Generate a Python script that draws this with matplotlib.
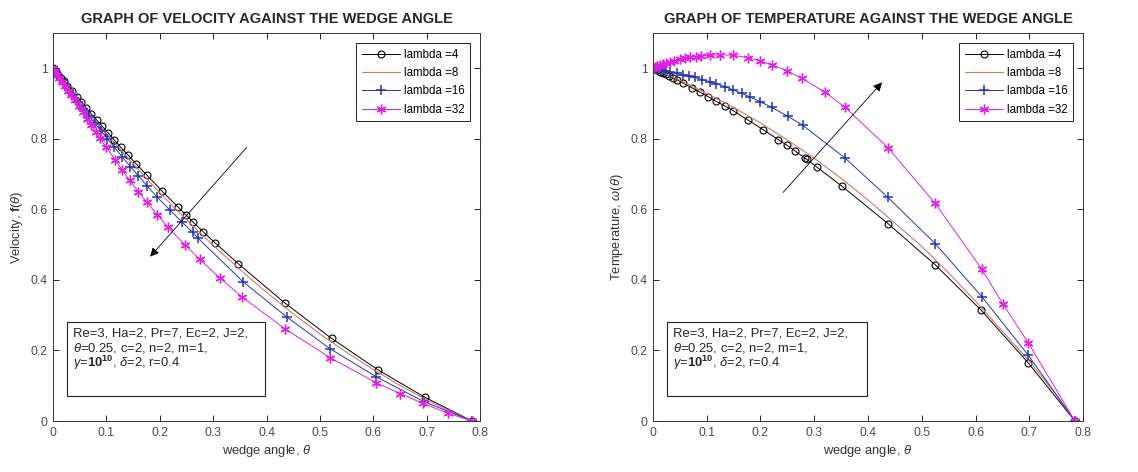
import matplotlib
matplotlib.use("Agg")
import matplotlib.pyplot as plt
from matplotlib.patches import Rectangle

plt.rcParams['font.family'] = ['Liberation Sans', 'DejaVu Sans']
plt.rcParams['mathtext.fontset'] = 'custom'
plt.rcParams['mathtext.rm'] = 'Liberation Sans'
plt.rcParams['mathtext.it'] = 'Liberation Sans:italic'
plt.rcParams['mathtext.bf'] = 'Liberation Sans:bold'

# ---------------- data: velocity ----------------
vel_x4 = [0, 0.005, 0.01, 0.015, 0.02, 0.027, 0.035, 0.044, 0.053, 0.062, 0.072, 0.082,
          0.092, 0.103, 0.115, 0.127, 0.14, 0.155, 0.176, 0.204, 0.234, 0.25, 0.263,
          0.281, 0.303, 0.347, 0.434, 0.522, 0.609, 0.697, 0.785]
vel_y4 = [1.000, 0.991, 0.981, 0.972, 0.963, 0.950, 0.936, 0.920, 0.904, 0.888, 0.870, 0.853,
          0.836, 0.817, 0.796, 0.776, 0.755, 0.730, 0.697, 0.652, 0.607, 0.583, 0.563,
          0.537, 0.506, 0.446, 0.335, 0.234, 0.145, 0.067, 0.000]

vel_x8 = [0, 0.02, 0.05, 0.1, 0.15, 0.2, 0.25, 0.3, 0.35, 0.4, 0.45, 0.5, 0.55, 0.6,
          0.65, 0.7, 0.75, 0.785]
vel_y8 = [1.000, 0.962, 0.906, 0.815, 0.729, 0.647, 0.571, 0.498, 0.430, 0.365, 0.304,
          0.247, 0.195, 0.146, 0.101, 0.060, 0.023, 0.000]

vel_x16 = [0, 0.005, 0.01, 0.016, 0.022, 0.03, 0.038, 0.047, 0.057, 0.067, 0.078, 0.09,
           0.102, 0.115, 0.13, 0.145, 0.16, 0.176, 0.195, 0.219, 0.241, 0.262, 0.272,
           0.356, 0.438, 0.519, 0.606, 0.695, 0.785]
vel_y16 = [1.000, 0.990, 0.979, 0.967, 0.955, 0.939, 0.923, 0.905, 0.885, 0.866, 0.845,
           0.822, 0.800, 0.776, 0.748, 0.721, 0.695, 0.667, 0.635, 0.598, 0.565, 0.535,
           0.518, 0.395, 0.295, 0.205, 0.125, 0.055, 0.000]

vel_x32 = [0, 0.004, 0.008, 0.012, 0.017, 0.022, 0.028, 0.034, 0.041, 0.048, 0.056, 0.064,
           0.072, 0.08, 0.088, 0.1, 0.116, 0.129, 0.144, 0.16, 0.176, 0.195, 0.215, 0.247,
           0.275, 0.313, 0.354, 0.434, 0.519, 0.606, 0.65, 0.693, 0.74, 0.785]
vel_y32 = [1.000, 0.991, 0.982, 0.973, 0.962, 0.951, 0.937, 0.924, 0.909, 0.893, 0.875,
           0.857, 0.839, 0.820, 0.802, 0.776, 0.741, 0.713, 0.682, 0.650, 0.620, 0.585,
           0.550, 0.500, 0.458, 0.405, 0.352, 0.262, 0.180, 0.108, 0.078, 0.050, 0.022,
           0.000]

# ---------------- data: temperature ----------------
tmp_x4 = [0, 0.004, 0.008, 0.013, 0.018, 0.024, 0.03, 0.037, 0.044, 0.056, 0.072, 0.088,
          0.102, 0.118, 0.134, 0.149, 0.177, 0.205, 0.233, 0.249, 0.264, 0.283, 0.286,
          0.305, 0.352, 0.437, 0.525, 0.61, 0.698, 0.785]
tmp_y4 = [1.000, 0.997, 0.994, 0.990, 0.987, 0.983, 0.978, 0.973, 0.968, 0.958, 0.945,
          0.932, 0.920, 0.906, 0.893, 0.880, 0.853, 0.826, 0.798, 0.782, 0.766, 0.745,
          0.742, 0.720, 0.665, 0.560, 0.443, 0.315, 0.165, 0.000]

tmp_x8 = [0, 0.05, 0.1, 0.15, 0.2, 0.25, 0.3, 0.35, 0.4, 0.45, 0.5, 0.55, 0.6, 0.65,
          0.7, 0.75, 0.785]
tmp_y8 = [1.000, 0.966, 0.929, 0.889, 0.845, 0.797, 0.745, 0.688, 0.627, 0.561, 0.495,
          0.420, 0.340, 0.255, 0.170, 0.075, 0.000]

tmp_x16 = [0, 0.005, 0.01, 0.016, 0.022, 0.032, 0.044, 0.056, 0.067, 0.078, 0.092, 0.106,
           0.118, 0.134, 0.149, 0.165, 0.18, 0.2, 0.221, 0.251, 0.279, 0.357, 0.437,
           0.525, 0.612, 0.698, 0.785]
tmp_y16 = [1.000, 0.999, 0.997, 0.995, 0.993, 0.990, 0.986, 0.982, 0.978, 0.974, 0.968,
           0.962, 0.956, 0.948, 0.939, 0.929, 0.919, 0.905, 0.889, 0.864, 0.838, 0.746,
           0.634, 0.503, 0.352, 0.187, 0.000]

tmp_x32 = [0, 0.004, 0.008, 0.013, 0.018, 0.024, 0.032, 0.04, 0.05, 0.06, 0.069, 0.08,
           0.09, 0.106, 0.125, 0.149, 0.177, 0.199, 0.221, 0.249, 0.277, 0.32, 0.357,
           0.437, 0.525, 0.612, 0.651, 0.698, 0.785]
tmp_y32 = [1.000, 1.003, 1.006, 1.009, 1.012, 1.015, 1.019, 1.022, 1.026, 1.029, 1.031,
           1.033, 1.035, 1.037, 1.038, 1.037, 1.030, 1.021, 1.010, 0.993, 0.972, 0.932,
           0.890, 0.775, 0.617, 0.430, 0.332, 0.222, 0.000]

labels = ['lambda =4', 'lambda =8', 'lambda =16', 'lambda =32']
xticks = [0, 0.1, 0.2, 0.3, 0.4, 0.5, 0.6, 0.7, 0.8]
yticks = [0, 0.2, 0.4, 0.6, 0.8, 1.0]
ytick_labels = ['0', '0.2', '0.4', '0.6', '0.8', '1']
xtick_labels = ['0', '0.1', '0.2', '0.3', '0.4', '0.5', '0.6', '0.7', '0.8']

param_lines = ['Re=3, Ha=2, Pr=7, Ec=2, J=2,',
               r'$\it{\theta}$=0.25, c=2, n=2, m=1,',
               r'$\gamma$=$\mathbf{10^{10}}$, $\delta$=2, r=0.4']

# arrows (start, end) in data coords
vel_arrow = ((0.363, 0.776), (0.182, 0.466))
tmp_arrow = ((0.242, 0.648), (0.426, 0.960))

fig = plt.figure(figsize=(11.38, 4.72), dpi=100)
ax1 = fig.add_axes([0.0466, 0.108, 0.3752, 0.822])
ax2 = fig.add_axes([0.5738, 0.108, 0.3779, 0.822])

C8 = '#cc7b68'
C16 = '#2233bb'
C32 = '#e020e0'
TXT = '#262626'
ASTERISK = (6, 2, 0)


def draw(ax, xs, ys, title, ylabel, arrow):
    (x4, y4), (x8, y8), (x16, y16), (x32, y32) = zip(xs, ys)
    ax.plot(x4, y4, '-', color='k', lw=0.7, marker='o', ms=5, mfc='none', mew=0.8,
            label=labels[0])
    ax.plot(x8, y8, '-', color=C8, lw=0.8, label=labels[1])
    ax.plot(x16, y16, '-', color=C16, lw=0.7, marker='+', ms=7, mew=1.1, label=labels[2])
    ax.plot(x32, y32, '-', color=C32, lw=0.7, marker=ASTERISK, ms=7, mew=1.0,
            label=labels[3])
    ax.set_xlim(0, 0.8)
    ax.set_ylim(0, 1.1)
    ax.set_xticks(xticks)
    ax.set_xticklabels(xtick_labels)
    ax.set_yticks(yticks)
    ax.set_yticklabels(ytick_labels)
    ax.tick_params(direction='in', top=True, right=True, length=4, width=0.6,
                   labelsize=8.7, labelcolor='#4a4a4a', pad=4)
    for s in ax.spines.values():
        s.set_linewidth(0.7)
        s.set_color('#333333')
    ax.set_title(title, fontsize=10.5, fontweight='bold', color=TXT, pad=7)
    ax.set_xlabel(r'wedge angle, $\it{\theta}$', fontsize=9.3, color='#333333', labelpad=3)
    ax.set_ylabel(ylabel, fontsize=9.3, color='#333333', labelpad=4)
    leg = ax.legend(loc='upper right', fontsize=8.3, handlelength=3.3, handletextpad=0.3,
                    borderpad=0.5, labelspacing=0.55, fancybox=False, framealpha=1,
                    edgecolor='#222222', borderaxespad=0.85)
    leg.get_frame().set_linewidth(0.7)
    ax.annotate('', xy=arrow[1], xytext=arrow[0],
                arrowprops=dict(arrowstyle='-|>', color='k', lw=0.6, mutation_scale=13,
                                shrinkA=0, shrinkB=0))
    ax.add_patch(Rectangle((0.0325, 0.0645), 0.464, 0.191, transform=ax.transAxes,
                           fill=True, facecolor='white', edgecolor='#222222', lw=0.8,
                           zorder=5))
    for i, line in enumerate(param_lines):
        ax.text(0.047, 0.225 - i * 0.037, line, transform=ax.transAxes, fontsize=9.4,
                va='center', ha='left', color=TXT, zorder=6)


draw(ax1, [vel_x4, vel_x8, vel_x16, vel_x32], [vel_y4, vel_y8, vel_y16, vel_y32],
     'GRAPH OF VELOCITY AGAINST THE WEDGE ANGLE',
     r'Velocity, $\mathbf{f}$($\it{\theta}$)', vel_arrow)
draw(ax2, [tmp_x4, tmp_x8, tmp_x16, tmp_x32], [tmp_y4, tmp_y8, tmp_y16, tmp_y32],
     'GRAPH OF TEMPERATURE AGAINST THE WEDGE ANGLE',
     r'Temperature, $\it{\omega}$($\it{\theta}$)', tmp_arrow)

fig.savefig('out.png', dpi=100)
